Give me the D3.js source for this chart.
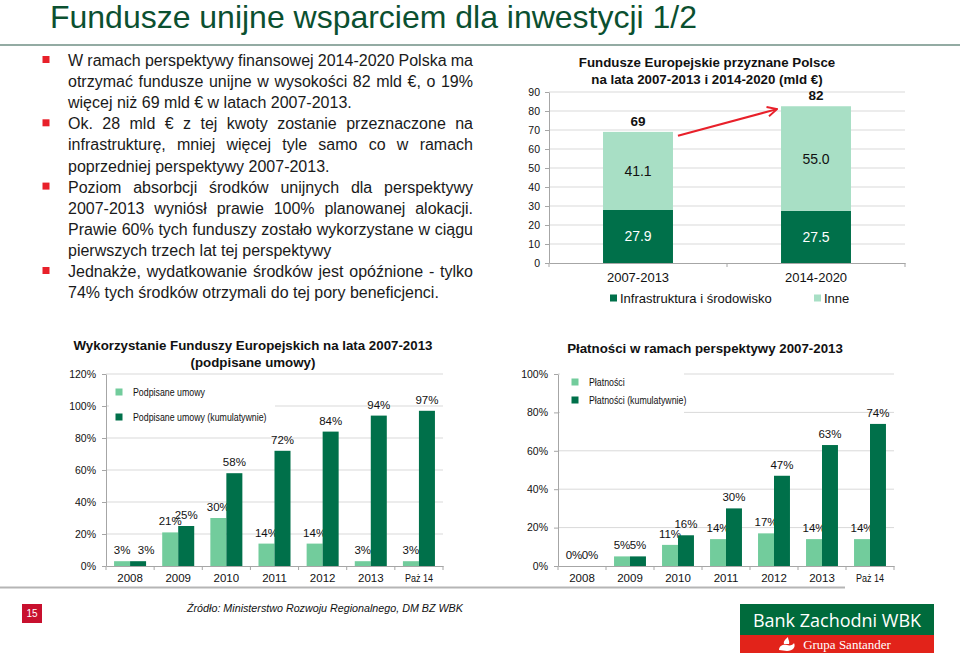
<!DOCTYPE html>
<html><head><meta charset="utf-8">
<script src="https://cdn.jsdelivr.net/npm/d3@7"></script>
<style>body{margin:0;background:#fff}svg{display:block}</style>
</head><body>
<svg id="c" width="960" height="656"></svg>
<script>
// ---------- DATA ----------
const pageTitle = "Fundusze unijne wsparciem dla inwestycji 1/2";
const bulletLines = [
  ["W ramach perspektywy finansowej 2014-2020 Polska ma", true, true],
  ["otrzymać fundusze unijne w wysokości 82 mld €, o 19%", false, true],
  ["więcej niż 69 mld € w latach 2007-2013.", false, false],
  ["Ok. 28 mld € z tej kwoty zostanie przeznaczone na", true, true],
  ["infrastrukturę, mniej więcej tyle samo co w ramach", false, true],
  ["poprzedniej perspektywy 2007-2013.", false, false],
  ["Poziom absorbcji środków unijnych dla perspektywy", true, true],
  ["2007-2013 wyniósł prawie 100% planowanej alokacji.", false, true],
  ["Prawie 60% tych funduszy zostało wykorzystane w ciągu", false, true],
  ["pierwszych trzech lat tej perspektywy", false, false],
  ["Jednakże, wydatkowanie środków jest opóźnione - tylko", true, true],
  ["74% tych środków otrzymali do tej pory beneficjenci.", false, false]
];

const topTitle = ["Fundusze Europejskie przyznane Polsce", "na lata 2007-2013 i 2014-2020 (mld €)"];
const periods = ["2007-2013", "2014-2020"];
const infra = [27.9, 27.5];
const inne = [41.1, 55.0];
const totals = [69, 82];
const topTicks = [0, 10, 20, 30, 40, 50, 60, 70, 80, 90];
const topLegend = ["Infrastruktura i środowisko", "Inne"];

const years = ["2008", "2009", "2010", "2011", "2012", "2013", "Paż 14"];
const signed = [3, 21, 30, 14, 14, 3, 3];
const signedCum = [3, 25, 58, 72, 84, 94, 97];
const signedTicks = [0, 20, 40, 60, 80, 100, 120];
const signedTitle = ["Wykorzystanie Funduszy Europejskich na lata 2007-2013", "(podpisane umowy)"];
const signedLegend = ["Podpisane umowy", "Podpisane umowy (kumulatywnie)"];

const payments = [0, 5, 11, 14, 17, 14, 14];
const paymentsCum = [0, 5, 16, 30, 47, 63, 74];
const paymentTicks = [0, 20, 40, 60, 80, 100];
const paymentTitle = ["Płatności w ramach perspektywy 2007-2013"];
const paymentLegend = ["Płatności", "Płatności (kumulatywnie)"];

const sourceText = "Źródło: Ministerstwo Rozwoju Regionalnego, DM BZ WBK";
const pageNumber = "15";

// ---------- STYLE ----------
const F = "'Liberation Sans', Arial, sans-serif";
const dark = "#00704a";
const lightTop = "#a8dfc5";
const lightBot = "#72cc9c";
const gridC = "#d9d9d9";
const axisC = "#a6a6a6";

// condensed look (Arial Narrow is not installed): squeeze a text to a share of its natural width
function narrow(sel, f) {
  sel.each(function () {
    const w = this.getComputedTextLength();
    d3.select(this).attr("textLength", w * f).attr("lengthAdjust", "spacingAndGlyphs");
  });
}

const svg = d3.select("#c");
svg.append("rect").attr("width", 960).attr("height", 656).attr("fill", "#fff");

// Title + rule
svg.append("text").attr("x", 50).attr("y", 28).attr("font-family", F).attr("font-size", 30.5)
  .attr("fill", "#0b5030").text(pageTitle).attr("textLength", 647).attr("lengthAdjust", "spacingAndGlyphs");
svg.append("line").attr("x1", 0).attr("x2", 960).attr("y1", 45).attr("y2", 45)
  .attr("stroke", "#6f8f85").attr("stroke-width", 1.5);

// ---------- BULLET TEXT ----------
(function () {
  const g = svg.append("g").attr("font-family", F).attr("font-size", 16).attr("fill", "#1a1a1a");
  const x0 = 68, x1 = 473, y0 = 66, lh = 21.1;
  const meas = g.append("text").attr("opacity", 0);
  const w = s => { meas.text(s); return meas.node().getComputedTextLength(); };
  bulletLines.forEach(([txt, bullet, just], i) => {
    const y = y0 + i * lh;
    if (bullet) g.append("rect").attr("x", 42.5).attr("y", y - 10).attr("width", 7).attr("height", 7).attr("fill", "#e8202a");
    if (!just) { g.append("text").attr("x", x0).attr("y", y).text(txt); return; }
    const words = txt.split(" ");
    const ws = words.map(w);
    const gap = (x1 - x0 - d3.sum(ws)) / (words.length - 1);
    let x = x0;
    words.forEach((wd, k) => { g.append("text").attr("x", x).attr("y", y).text(wd); x += ws[k] + gap; });
  });
  meas.remove();
})();

// ---------- TOP RIGHT STACKED CHART ----------
(function () {
  const g = svg.append("g");
  const x = d3.scaleBand().domain(periods).range([549, 905]).paddingInner(0.607).paddingOuter(0.3035);
  const y = d3.scaleLinear().domain([0, 90]).range([263, 92]);
  g.selectAll("line.grid").data(topTicks.filter(d => d > 0)).join("line")
    .attr("x1", 549).attr("x2", 905).attr("y1", d => y(d)).attr("y2", d => y(d)).attr("stroke", gridC);
  const rows = periods.map((p, i) => ({ period: p, infra: infra[i], inne: inne[i] }));
  const stack = d3.stack().keys(["infra", "inne"])(rows);
  const cols = [dark, lightTop];
  g.selectAll("g.layer").data(stack).join("g").attr("fill", (d, i) => cols[i])
    .selectAll("rect").data(d => d).join("rect")
    .attr("x", d => x(d.data.period)).attr("width", x.bandwidth())
    .attr("y", d => y(d[1])).attr("height", d => y(d[0]) - y(d[1]));
  stack.forEach((layer, li) => {
    g.selectAll(null).data(layer).join("text")
      .attr("x", d => x(d.data.period) + x.bandwidth() / 2)
      .attr("y", d => y((d[0] + d[1]) / 2) + 5)
      .attr("text-anchor", "middle").attr("font-family", F).attr("font-size", 14)
      .attr("fill", li === 0 ? "#fff" : "#111")
      .text(d => d3.format(".1f")(d[1] - d[0]));
  });
  g.selectAll(null).data(periods).join("text")
    .attr("x", d => x(d) + x.bandwidth() / 2).attr("y", (d, i) => y(infra[i] + inne[i]) - 6)
    .attr("text-anchor", "middle").attr("font-family", F).attr("font-size", 13.5).attr("font-weight", "bold")
    .attr("fill", "#111").text((d, i) => totals[i]);
  const ay = g.append("g").attr("transform", "translate(549,0)")
    .call(d3.axisLeft(y).tickValues(topTicks).tickSize(4).tickSizeOuter(0).tickPadding(5));
  ay.select(".domain").attr("stroke", axisC);
  ay.selectAll(".tick line").attr("stroke", axisC);
  ay.selectAll("text").attr("font-family", F).attr("font-size", 10.5).attr("fill", "#111");
  const ax = g.append("g").attr("transform", "translate(0,263)")
    .call(d3.axisBottom(x).tickSize(0).tickSizeOuter(0).tickPadding(10));
  ax.select(".domain").attr("stroke", axisC);
  ax.selectAll("text").attr("font-family", F).attr("font-size", 13).attr("fill", "#111");
  const [r0, r1] = x.range();
  g.selectAll(null).data(d3.range(periods.length + 1)).join("line")
    .attr("x1", i => r0 + (r1 - r0) * i / periods.length).attr("x2", i => r0 + (r1 - r0) * i / periods.length)
    .attr("y1", 263).attr("y2", 267).attr("stroke", axisC);
  const defs = svg.append("defs");
  defs.append("marker").attr("id", "arr").attr("viewBox", "0 0 10 10").attr("refX", 9).attr("refY", 5)
    .attr("markerWidth", 6).attr("markerHeight", 6).attr("orient", "auto")
    .append("path").attr("d", "M1,1 L9,5 L1,9").attr("fill", "none").attr("stroke", "#e8202a").attr("stroke-width", 1.6);
  g.append("line")
    .attr("x1", x(periods[0]) + x.bandwidth() + 5).attr("y1", y(67))
    .attr("x2", x(periods[1]) - 4).attr("y2", y(81))
    .attr("stroke", "#e8202a").attr("stroke-width", 2).attr("marker-end", "url(#arr)");
  topTitle.forEach((t, i) => g.append("text").attr("x", 707).attr("y", 67 + i * 16.5).attr("text-anchor", "middle")
    .attr("font-family", F).attr("font-size", 13.3).attr("font-weight", "bold").attr("fill", "#111").text(t));
  const lx = [610, 814];
  topLegend.forEach((t, i) => {
    g.append("rect").attr("x", lx[i]).attr("y", 294.5).attr("width", 7).attr("height", 7).attr("fill", cols[i]);
    g.append("text").attr("x", lx[i] + 10).attr("y", 303).attr("font-family", F).attr("font-size", 13)
      .attr("fill", "#111").text(t);
  });
})();

// ---------- BOTTOM GROUPED CHARTS ----------
function grouped(o) {
  const g = svg.append("g");
  const x0 = d3.scaleBand().domain(years).range(o.xr).paddingInner(0.335).paddingOuter(0.1675);
  const x1 = d3.scaleBand().domain([0, 1]).range([0, x0.bandwidth()]);
  const y = d3.scaleLinear().domain([0, d3.max(o.ticks)]).range([566, 374]);
  g.selectAll(null).data(o.ticks.filter(d => d > 0)).join("line")
    .attr("x1", o.xr[0]).attr("x2", o.xr[1]).attr("y1", d => y(d)).attr("y2", d => y(d)).attr("stroke", gridC);
  g.append("rect").attr("x", o.legBox[0]).attr("y", o.legBox[1]).attr("width", o.legBox[2]).attr("height", o.legBox[3]).attr("fill", "#fff");
  const series = [o.a, o.b];
  const cols = [lightBot, dark];
  series.forEach((s, si) => {
    g.selectAll(null).data(s).join("rect")
      .attr("x", (d, i) => x0(years[i]) + x1(si)).attr("width", x1.bandwidth())
      .attr("y", d => y(d)).attr("height", d => 566 - y(d)).attr("fill", cols[si]);
    g.selectAll(null).data(s).join("text")
      .attr("x", (d, i) => x0(years[i]) + x1(si) + x1.bandwidth() / 2 + (si === 1 && i === 0 ? o.firstDx : 0))
      .attr("y", d => y(d) - 7).attr("text-anchor", "middle")
      .attr("font-family", F).attr("font-size", 11.5).attr("fill", "#111").text(d => d + "%");
  });
  const ay = g.append("g").attr("transform", `translate(${o.xr[0]},0)`)
    .call(d3.axisLeft(y).tickValues(o.ticks).tickFormat(d => d + "%").tickSize(4).tickSizeOuter(0).tickPadding(6));
  ay.select(".domain").attr("stroke", axisC);
  ay.selectAll(".tick line").attr("stroke", axisC);
  ay.selectAll("text").attr("font-family", F).attr("font-size", 10.5).attr("fill", "#111");
  const ax = g.append("g").attr("transform", "translate(0,566)")
    .call(d3.axisBottom(x0).tickSize(0).tickSizeOuter(0).tickPadding(8));
  ax.select(".domain").attr("stroke", axisC);
  ax.selectAll("text").attr("font-family", F).attr("font-size", 11.5).attr("fill", "#111");
  ax.selectAll(".tick").filter(d => d === years[years.length - 1]).select("text")
    .attr("font-size", 11).call(narrow, 0.82);
  g.selectAll(null).data(d3.range(years.length + 1)).join("line")
    .attr("x1", i => o.xr[0] + (o.xr[1] - o.xr[0]) * i / years.length)
    .attr("x2", i => o.xr[0] + (o.xr[1] - o.xr[0]) * i / years.length)
    .attr("y1", 566).attr("y2", 570).attr("stroke", axisC);
  o.title.forEach((t, i) => g.append("text").attr("x", o.tx).attr("y", o.ty + i * 17).attr("text-anchor", "middle")
    .attr("font-family", F).attr("font-size", 13.3).attr("font-weight", "bold").attr("fill", "#111").text(t));
  o.legend.forEach((t, i) => {
    g.append("rect").attr("x", o.lx - 3.5).attr("y", o.ly[i] - 3.5).attr("width", 7).attr("height", 7).attr("fill", cols[i]);
    g.append("text").attr("x", o.lx + 14).attr("y", o.ly[i] + 4).attr("font-family", F).attr("font-size", 11)
      .attr("fill", "#111").text(t).call(narrow, 0.8);
  });
}
grouped({ xr: [106, 443], ticks: signedTicks, a: signed, b: signedCum, firstDx: 8,
  title: signedTitle, tx: 253, ty: 350, legend: signedLegend, lx: 119, ly: [392, 417],
  legBox: [109, 380, 166, 46] });
grouped({ xr: [558, 894], ticks: paymentTicks, a: payments, b: paymentsCum, firstDx: 0,
  title: paymentTitle, tx: 705, ty: 353, legend: paymentLegend, lx: 575, ly: [382, 400],
  legBox: [560, 370, 124, 46] });

// ---------- FOOTER ----------
svg.append("line").attr("x1", 0).attr("x2", 845).attr("y1", 587.5).attr("y2", 587.5).attr("stroke", "#b5b5b5").attr("stroke-width", 2);
svg.append("rect").attr("x", 22).attr("y", 604).attr("width", 20).attr("height", 19).attr("fill", "#c8102e");
svg.append("text").attr("x", 32).attr("y", 617).attr("text-anchor", "middle").attr("font-family", F)
  .attr("font-size", 10).attr("fill", "#fff").text(pageNumber);
svg.append("text").attr("x", 187).attr("y", 612).attr("font-family", F).attr("font-style", "italic")
  .attr("font-size", 11.5).attr("fill", "#111").text(sourceText).call(narrow, 276 / 296);
svg.append("rect").attr("x", 740).attr("y", 604).attr("width", 194).attr("height", 31).attr("fill", "#006b3c");
svg.append("rect").attr("x", 740).attr("y", 635).attr("width", 194).attr("height", 18).attr("fill", "#e2231a");
svg.append("text").attr("x", 837).attr("y", 627).attr("text-anchor", "middle").attr("font-family", "'Open Sans', sans-serif")
  .attr("font-size", 18).attr("fill", "#fff").text("Bank Zachodni WBK");
svg.append("text").attr("x", 847).attr("y", 649).attr("text-anchor", "middle").attr("font-family", "'Liberation Serif', serif")
  .attr("font-size", 13).attr("fill", "#fff").text("Grupa Santander");
svg.append("path").attr("transform", "translate(787,646)")
  .attr("d", "M-8,4 C-8,-1 -3,-2 0,-1 C3,0 6,-1 7,-3 C9,1 6,5 0,5 Z M-3,-2 C-4,-5 -1,-7 1,-9 C1,-6 3,-5 2,-2 Z")
  .attr("fill", "#fff");
</script>
</body></html>
